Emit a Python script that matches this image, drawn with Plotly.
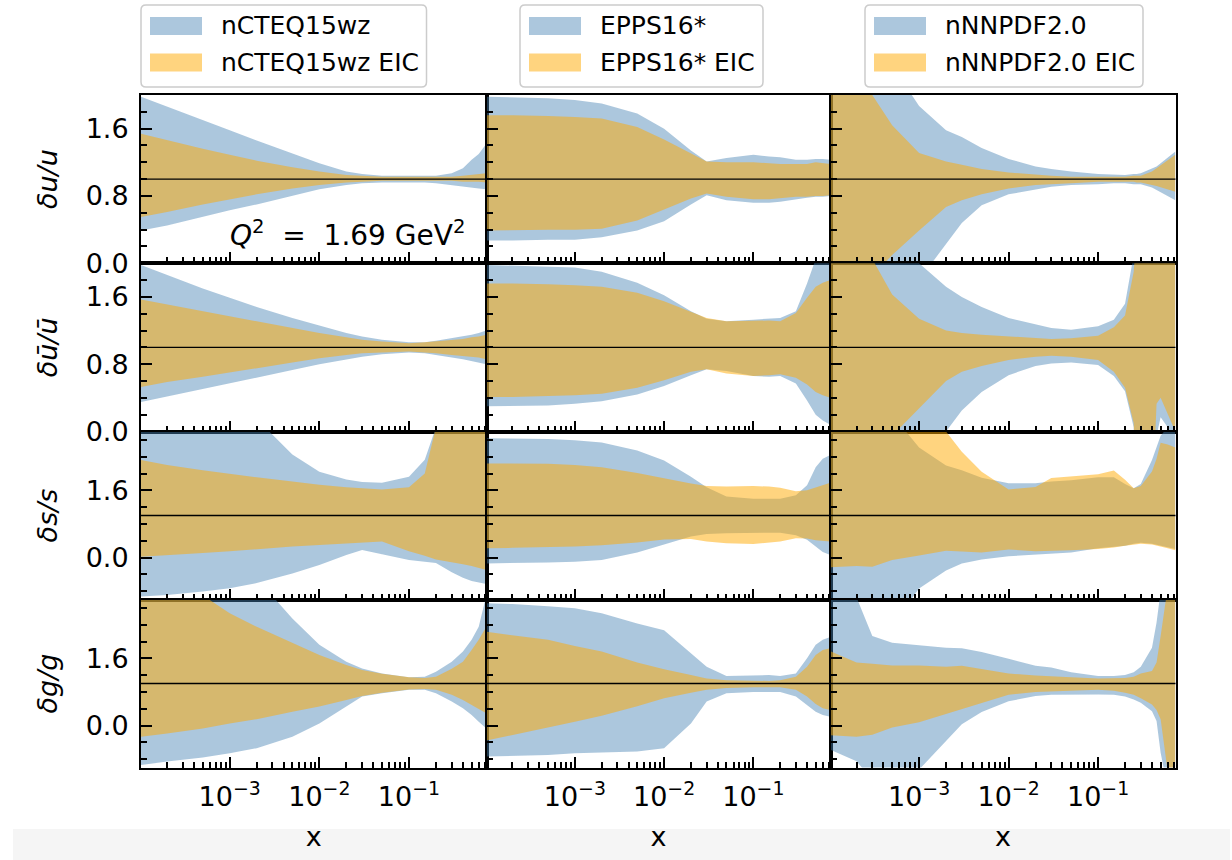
import plotly.graph_objects as go
from plotly.subplots import make_subplots

# ---------------- data ----------------
# x grid used for nCTEQ15wz and EPPS16* panels
X_A = [1.02e-4, 2e-4, 5e-4, 1e-3, 2e-3, 5e-3, 1e-2, 2e-2, 3e-2, 5e-2,
       0.1, 0.15, 0.2, 0.3, 0.4, 0.5, 0.6, 0.73]
# x grid used for nNNPDF2.0 panels (finer near the large-x features)
X_C = [1.02e-4, 2e-4, 3e-4, 5e-4, 1e-3, 2e-3, 3e-3, 5e-3, 1e-2, 2e-2, 3e-2,
       5e-2, 0.1, 0.15, 0.2, 0.25, 0.27, 0.3, 0.4, 0.45, 0.5, 0.6, 0.73]

# nCTEQ15wz  (HI/LO = band edges, EIC = with EIC pseudodata)
CT_U_HI = [1.98, 1.86, 1.70, 1.58, 1.46, 1.31, 1.19, 1.09, 1.06, 1.04, 1.04, 1.04, 1.04, 1.07, 1.13, 1.23, 1.30, 1.42]
CT_U_LO = [0.39, 0.45, 0.55, 0.63, 0.70, 0.80, 0.88, 0.93, 0.95, 0.96, 0.96, 0.96, 0.95, 0.93, 0.92, 0.90, 0.89, 0.88]
CT_U_EIC_HI = [1.54, 1.46, 1.36, 1.29, 1.22, 1.14, 1.09, 1.05, 1.04, 1.03, 1.03, 1.03, 1.03, 1.03, 1.04, 1.05, 1.06, 1.07]
CT_U_EIC_LO = [0.55, 0.61, 0.70, 0.76, 0.82, 0.89, 0.93, 0.96, 0.97, 0.98, 0.98, 0.98, 0.98, 0.98, 0.97, 0.97, 0.97, 0.96]

CT_UB_HI = [1.98, 1.86, 1.70, 1.59, 1.48, 1.35, 1.26, 1.17, 1.13, 1.09, 1.06, 1.06, 1.08, 1.11, 1.13, 1.15, 1.17, 1.20]
CT_UB_LO = [0.35, 0.41, 0.50, 0.57, 0.64, 0.73, 0.80, 0.86, 0.89, 0.92, 0.94, 0.93, 0.91, 0.88, 0.86, 0.84, 0.82, 0.80]
CT_UB_EIC_HI = [1.57, 1.51, 1.43, 1.37, 1.31, 1.23, 1.17, 1.12, 1.09, 1.07, 1.05, 1.06, 1.07, 1.09, 1.10, 1.12, 1.13, 1.15]
CT_UB_EIC_LO = [0.53, 0.59, 0.65, 0.70, 0.75, 0.82, 0.87, 0.91, 0.93, 0.94, 0.95, 0.94, 0.93, 0.91, 0.90, 0.89, 0.88, 0.86]

CT_S_HI = [3.6, 3.55, 3.5, 3.45, 3.3, 2.45, 2.04, 1.86, 1.80, 1.78, 1.92, 2.33, 3.1, 3.5, 3.5, 3.5, 3.5, 3.5]
CT_S_LO = [-0.93, -0.89, -0.81, -0.73, -0.61, -0.38, -0.18, 0.06, 0.18, 0.08, -0.06, -0.10, -0.13, -0.35, -0.48, -0.56, -0.60, -0.63]
CT_S_EIC_HI = [2.32, 2.20, 2.08, 1.99, 1.91, 1.81, 1.73, 1.67, 1.65, 1.62, 1.67, 2.0, 3.1, 3.5, 3.5, 3.5, 3.5, 3.5]
CT_S_EIC_LO = [0.02, 0.06, 0.11, 0.15, 0.19, 0.26, 0.30, 0.34, 0.36, 0.38, 0.15, 0.04, -0.05, -0.12, -0.16, -0.20, -0.24, -0.30]

CT_G_HI = [3.8, 3.8, 3.7, 3.6, 3.5, 2.55, 1.92, 1.52, 1.36, 1.24, 1.15, 1.16, 1.28, 1.52, 1.76, 2.04, 2.35, 3.1]
CT_G_LO = [-0.94, -0.86, -0.76, -0.66, -0.54, -0.27, 0.05, 0.45, 0.69, 0.77, 0.85, 0.85, 0.77, 0.57, 0.41, 0.25, 0.09, -0.07]
CT_G_EIC_HI = [3.5, 3.4, 3.1, 2.67, 2.35, 1.96, 1.68, 1.44, 1.32, 1.23, 1.15, 1.13, 1.16, 1.35, 1.52, 1.80, 2.04, 2.35]
CT_G_EIC_LO = [-0.27, -0.19, -0.07, 0.05, 0.15, 0.33, 0.45, 0.61, 0.70, 0.78, 0.86, 0.87, 0.85, 0.73, 0.61, 0.49, 0.39, 0.29]

# EPPS16*
EP_U_HI = [1.98, 1.97, 1.96, 1.94, 1.90, 1.78, 1.60, 1.34, 1.21, 1.25, 1.29, 1.27, 1.26, 1.23, 1.23, 1.24, 1.24, 1.23]
EP_U_LO = [0.27, 0.27, 0.28, 0.28, 0.31, 0.39, 0.50, 0.70, 0.81, 0.75, 0.72, 0.72, 0.73, 0.76, 0.78, 0.79, 0.79, 0.80]
EP_U_EIC_HI = [1.76, 1.76, 1.75, 1.74, 1.72, 1.62, 1.47, 1.30, 1.21, 1.20, 1.20, 1.19, 1.18, 1.18, 1.18, 1.20, 1.19, 1.18]
EP_U_EIC_LO = [0.39, 0.39, 0.40, 0.40, 0.41, 0.51, 0.64, 0.77, 0.83, 0.79, 0.76, 0.76, 0.77, 0.79, 0.79, 0.80, 0.80, 0.81]

EP_UB_HI = [1.98, 1.97, 1.96, 1.95, 1.90, 1.77, 1.62, 1.43, 1.34, 1.31, 1.33, 1.34, 1.35, 1.43, 1.76, 2.05, 2.3, 2.3]
EP_UB_LO = [0.30, 0.30, 0.31, 0.33, 0.36, 0.44, 0.54, 0.67, 0.74, 0.72, 0.66, 0.65, 0.66, 0.57, 0.37, 0.20, 0.13, 0.08]
EP_UB_EIC_HI = [1.76, 1.76, 1.75, 1.74, 1.72, 1.65, 1.55, 1.42, 1.35, 1.31, 1.32, 1.32, 1.31, 1.41, 1.59, 1.72, 1.77, 1.80]
EP_UB_EIC_LO = [0.41, 0.41, 0.42, 0.43, 0.45, 0.52, 0.61, 0.71, 0.74, 0.69, 0.66, 0.67, 0.68, 0.64, 0.56, 0.47, 0.43, 0.40]

EP_S_HI = [2.84, 2.83, 2.82, 2.79, 2.74, 2.55, 2.31, 1.92, 1.67, 1.45, 1.40, 1.40, 1.40, 1.48, 1.72, 2.15, 2.35, 2.44]
EP_S_LO = [-0.14, -0.13, -0.12, -0.10, -0.06, 0.12, 0.31, 0.50, 0.56, 0.58, 0.59, 0.59, 0.59, 0.53, 0.42, 0.26, 0.13, 0.06]
EP_S_EIC_HI = [2.24, 2.24, 2.23, 2.20, 2.15, 2.01, 1.88, 1.76, 1.70, 1.69, 1.70, 1.69, 1.66, 1.58, 1.60, 1.66, 1.72, 1.78]
EP_S_EIC_LO = [0.22, 0.23, 0.24, 0.26, 0.29, 0.36, 0.43, 0.44, 0.38, 0.34, 0.32, 0.35, 0.38, 0.46, 0.45, 0.41, 0.39, 0.38]

EP_G_HI = [2.91, 2.89, 2.84, 2.79, 2.67, 2.43, 2.27, 1.72, 1.40, 1.18, 1.20, 1.20, 1.18, 1.24, 1.60, 1.92, 2.04, 2.11]
EP_G_LO = [-0.74, -0.73, -0.70, -0.66, -0.64, -0.62, -0.54, 0.05, 0.57, 0.77, 0.80, 0.80, 0.80, 0.69, 0.49, 0.33, 0.25, 0.21]
EP_G_EIC_HI = [2.23, 2.15, 2.04, 1.89, 1.76, 1.50, 1.34, 1.20, 1.12, 1.08, 1.06, 1.06, 1.08, 1.16, 1.40, 1.68, 1.80, 1.84]
EP_G_EIC_LO = [-0.36, -0.23, -0.05, 0.09, 0.23, 0.46, 0.65, 0.78, 0.85, 0.89, 0.91, 0.91, 0.91, 0.85, 0.69, 0.51, 0.41, 0.37]

# nNNPDF2.0
NN_U_HI = [3.0, 2.8, 2.6, 2.35, 1.87, 1.58, 1.50, 1.37, 1.24, 1.15, 1.12, 1.09, 1.06, 1.05, 1.05, 1.06, 1.06, 1.07, 1.12, 1.15, 1.19, 1.26, 1.33]
NN_U_LO = [-1.0, -0.8, -0.65, -0.5, -0.2, 0.23, 0.48, 0.69, 0.82, 0.88, 0.91, 0.93, 0.94, 0.95, 0.95, 0.94, 0.94, 0.94, 0.90, 0.88, 0.85, 0.80, 0.75]
NN_U_EIC_HI = [3.5, 2.4, 2.0, 1.64, 1.31, 1.21, 1.17, 1.12, 1.08, 1.05, 1.04, 1.03, 1.03, 1.03, 1.03, 1.04, 1.04, 1.04, 1.09, 1.13, 1.17, 1.23, 1.29]
NN_U_EIC_LO = [-0.5, -0.3, -0.15, 0.10, 0.39, 0.67, 0.75, 0.82, 0.89, 0.93, 0.94, 0.95, 0.97, 0.97, 0.97, 0.97, 0.96, 0.96, 0.93, 0.92, 0.90, 0.88, 0.85]

NN_UB_HI = [3.5, 3.2, 2.9, 2.3, 2.0, 1.72, 1.60, 1.48, 1.35, 1.27, 1.23, 1.21, 1.25, 1.33, 1.52, 2.1, 3.0, 3.0, 3.0, 3.0, 3.0, 3.0, 3.0]
NN_UB_LO = [-1.0, -0.8, -0.7, -0.5, -0.25, 0.0, 0.25, 0.47, 0.67, 0.78, 0.81, 0.82, 0.79, 0.66, 0.48, 0.05, -1.0, -1.0, -1.0, -0.05, 0.17, 0.05, -0.3]
NN_UB_EIC_HI = [3.5, 2.6, 2.05, 1.63, 1.34, 1.20, 1.17, 1.15, 1.13, 1.11, 1.10, 1.11, 1.14, 1.24, 1.38, 1.9, 3.0, 3.0, 3.0, 3.0, 3.0, 3.0, 3.0]
NN_UB_EIC_LO = [-0.6, -0.4, -0.25, -0.05, 0.27, 0.60, 0.71, 0.78, 0.85, 0.89, 0.90, 0.89, 0.85, 0.71, 0.52, 0.1, -1.0, -1.0, -1.0, 0.33, 0.40, 0.21, 0.0]

NN_S_HI = [3.5, 3.5, 3.5, 3.4, 2.62, 2.19, 2.08, 1.90, 1.77, 1.77, 1.81, 1.84, 1.91, 1.91, 1.75, 1.65, 1.70, 1.75, 2.32, 2.65, 2.9, 3.1, 3.1]
NN_S_LO = [-1.3, -1.2, -1.3, -1.6, -0.74, -0.31, -0.14, -0.05, 0.03, 0.07, 0.09, 0.12, 0.22, 0.26, 0.28, 0.33, 0.34, 0.35, 0.33, 0.30, 0.27, 0.24, 0.20]
NN_S_EIC_HI = [3.5, 3.5, 3.5, 3.4, 3.2, 3.0, 2.52, 2.04, 1.62, 1.68, 1.89, 1.93, 1.98, 2.07, 1.85, 1.65, 1.67, 1.70, 2.05, 2.35, 2.73, 2.69, 2.62]
NN_S_EIC_LO = [-0.23, -0.20, -0.22, -0.06, 0.05, 0.16, 0.14, 0.12, 0.19, 0.15, 0.16, 0.17, 0.20, 0.24, 0.28, 0.31, 0.32, 0.33, 0.31, 0.28, 0.26, 0.22, 0.17]

NN_G_HI = [3.5, 3.05, 2.13, 1.97, 1.91, 1.85, 1.84, 1.75, 1.59, 1.42, 1.38, 1.27, 1.18, 1.18, 1.20, 1.27, 1.32, 1.40, 1.85, 2.45, 3.2, 3.5, 3.5]
NN_G_LO = [-0.58, -0.85, -1.3, -1.5, -1.05, -0.37, 0.03, 0.32, 0.58, 0.70, 0.73, 0.73, 0.74, 0.73, 0.69, 0.62, 0.59, 0.54, 0.34, 0.11, -0.65, -1.5, -1.5]
NN_G_EIC_HI = [1.77, 1.50, 1.47, 1.43, 1.43, 1.40, 1.42, 1.34, 1.24, 1.19, 1.18, 1.15, 1.12, 1.12, 1.13, 1.16, 1.19, 1.24, 1.30, 1.50, 2.13, 3.3, 3.5]
NN_G_EIC_LO = [-0.23, -0.27, -0.22, -0.05, 0.08, 0.27, 0.38, 0.53, 0.73, 0.80, 0.81, 0.83, 0.85, 0.83, 0.78, 0.73, 0.70, 0.65, 0.50, 0.37, 0.15, -1.1, -1.5]

SETS = ["nCTEQ15wz", "EPPS16*", "nNNPDF2.0"]
ROW_TITLES = ["<i>δu/u</i>", "<i>δū/ū</i>", "<i>δs/s</i>", "<i>δg/g</i>"]
X_TICKVALS = [1e-4, 1e-3, 1e-2, 1e-1]
X_TICKTEXT = ["10<sup>−4</sup>", "10<sup>−3</sup>", "10<sup>−2</sup>", "10<sup>−1</sup>"]
Q2_LABEL = "<i>Q</i><sup>2</sup>\u00a0\u00a0=\u00a0\u00a01.69 GeV<sup>2</sup>"

PANELS = [
    [(X_A, CT_U_HI, CT_U_LO, CT_U_EIC_HI, CT_U_EIC_LO),
     (X_A, EP_U_HI, EP_U_LO, EP_U_EIC_HI, EP_U_EIC_LO),
     (X_C, NN_U_HI, NN_U_LO, NN_U_EIC_HI, NN_U_EIC_LO)],
    [(X_A, CT_UB_HI, CT_UB_LO, CT_UB_EIC_HI, CT_UB_EIC_LO),
     (X_A, EP_UB_HI, EP_UB_LO, EP_UB_EIC_HI, EP_UB_EIC_LO),
     (X_C, NN_UB_HI, NN_UB_LO, NN_UB_EIC_HI, NN_UB_EIC_LO)],
    [(X_A, CT_S_HI, CT_S_LO, CT_S_EIC_HI, CT_S_EIC_LO),
     (X_A, EP_S_HI, EP_S_LO, EP_S_EIC_HI, EP_S_EIC_LO),
     (X_C, NN_S_HI, NN_S_LO, NN_S_EIC_HI, NN_S_EIC_LO)],
    [(X_A, CT_G_HI, CT_G_LO, CT_G_EIC_HI, CT_G_EIC_LO),
     (X_A, EP_G_HI, EP_G_LO, EP_G_EIC_HI, EP_G_EIC_LO),
     (X_C, NN_G_HI, NN_G_LO, NN_G_EIC_HI, NN_G_EIC_LO)],
]

# ---------------- styling ----------------
W, H = 1232, 860
FONT = "DejaVu Sans"
BLUE = "rgba(70,130,180,0.45)"
ORANGE = "rgba(255,170,0,0.5)"


def px(x):
    return x / W


def py(y):
    return 1 - y / H


COL_PX = [(141, 486.5), (486.5, 830.5), (830.5, 1175.5)]
ROW_PX = [(95, 263.3), (263.3, 431.5), (431.5, 599.5), (599.5, 767.5)]
Y_RANGES = [[0, 2], [0, 2], [-1, 3], [-1, 3]]
Y_TICKS = [[0.0, 0.8, 1.6], [0.0, 0.8, 1.6], [0.0, 1.6], [0.0, 1.6]]
Y_MINOR = [[0.2 * k for k in range(1, 10)], [0.2 * k for k in range(1, 10)],
           [-0.8 + 0.4 * k for k in range(10)], [-0.8 + 0.4 * k for k in range(10)]]
X_MINOR = [m * 10.0 ** e for e in range(-4, 0) for m in range(2, 10)]
# legend boxes: (left, right) in page pixels; swatch/text offsets relative to left
LEG_PX = [(141, 426.5), (520, 763), (865, 1143)]
LEG_TOP, LEG_BOT = 5, 87
LEG_ROWS = [26, 62.5]

fig = make_subplots(rows=4, cols=3, horizontal_spacing=0, vertical_spacing=0)

for r in range(4):
    for c in range(3):
        xs, hi, lo, ehi, elo = PANELS[r][c]
        for up, dn, color, label in ((hi, lo, BLUE, SETS[c]),
                                     (ehi, elo, ORANGE, SETS[c] + " EIC")):
            fig.add_trace(go.Scatter(
                x=list(xs) + list(xs)[::-1],
                y=list(up) + list(dn)[::-1],
                mode="lines", fill="toself", fillcolor=color,
                line=dict(width=0, color=color),
                name=label, showlegend=False, hoverinfo="skip"),
                row=r + 1, col=c + 1)

for r in range(4):
    for c in range(3):
        idx = r * 3 + c + 1
        xa = "xaxis" if idx == 1 else f"xaxis{idx}"
        ya = "yaxis" if idx == 1 else f"yaxis{idx}"
        x0, x1 = COL_PX[c]
        y0, y1 = ROW_PX[r]
        fig.layout[xa].update(
            domain=[px(x0), px(x1)], type="log", range=[-3.99, -0.135],
            tickvals=X_TICKVALS, ticktext=X_TICKTEXT,
            ticks="inside", ticklen=11, tickwidth=2, tickcolor="black",
            showline=True, linewidth=2, linecolor="black", mirror=True,
            showgrid=False, zeroline=False, automargin=False,
            showticklabels=(r == 3), ticklabelstandoff=4,
            tickfont=dict(family=FONT, size=27, color="black"),
            minor=dict(tickvals=X_MINOR, ticks="inside", ticklen=6,
                       tickwidth=1.5, tickcolor="black", showgrid=False),
        )
        if r == 3:
            fig.layout[xa].title = dict(text="x", standoff=16,
                                        font=dict(family=FONT, size=27, color="black"))
        fig.layout[ya].update(
            domain=[py(y1), py(y0)], range=Y_RANGES[r],
            tickvals=Y_TICKS[r], tickformat=".1f",
            ticks="inside", ticklen=11, tickwidth=2, tickcolor="black",
            showline=True, linewidth=2, linecolor="black", mirror=True,
            showgrid=False, zeroline=False, automargin=False,
            showticklabels=(c == 0), ticklabelstandoff=5,
            tickfont=dict(family=FONT, size=27, color="black"),
            minor=dict(tickvals=Y_MINOR[r], ticks="inside", ticklen=6,
                       tickwidth=1.5, tickcolor="black", showgrid=False),
        )
        if c == 0:
            fig.layout[ya].title = dict(text=ROW_TITLES[r], standoff=20,
                                        font=dict(family=FONT, size=27, color="black"))
        xref = "x" if idx == 1 else f"x{idx}"
        yref = "y" if idx == 1 else f"y{idx}"
        fig.add_shape(type="line", xref=f"{xref} domain", yref=yref,
                      x0=0, x1=1, y0=1, y1=1,
                      line=dict(color="black", width=1.3))

fig.add_annotation(text=Q2_LABEL, xref="paper", yref="paper",
                   x=px(228), y=py(233), xanchor="left", yanchor="middle",
                   showarrow=False, font=dict(family=FONT, size=28, color="black"))


# ---- legends (matplotlib-style boxes with large swatches) ----
def rounded_box(x0, y0, x1, y1, rad=5):
    pts = [("M", x0 + rad, y0), ("L", x1 - rad, y0), ("Q", x1, y0, x1, y0 + rad),
           ("L", x1, y1 - rad), ("Q", x1, y1, x1 - rad, y1), ("L", x0 + rad, y1),
           ("Q", x0, y1, x0, y1 - rad), ("L", x0, y0 + rad), ("Q", x0, y0, x0 + rad, y0)]
    out = []
    for p in pts:
        cmd, vals = p[0], p[1:]
        coords = []
        for i in range(0, len(vals), 2):
            coords.append(f"{px(vals[i]):.5f},{py(vals[i + 1]):.5f}")
        out.append(cmd + " ".join(coords))
    return " ".join(out) + " Z"


for c in range(3):
    lx0, lx1 = LEG_PX[c]
    fig.add_shape(type="path", xref="paper", yref="paper",
                  path=rounded_box(lx0, LEG_TOP, lx1, LEG_BOT),
                  fillcolor="white", line=dict(color="#cccccc", width=1.5))
    for k, (color, label) in enumerate(((BLUE, SETS[c]), (ORANGE, SETS[c] + " EIC"))):
        yc = LEG_ROWS[k]
        fig.add_shape(type="rect", xref="paper", yref="paper",
                      x0=px(lx0 + 9), x1=px(lx0 + 61), y0=py(yc + 9), y1=py(yc - 9),
                      fillcolor=color, line=dict(width=0))
        fig.add_annotation(text=label, xref="paper", yref="paper",
                           x=px(lx0 + 78), y=py(yc), xanchor="left", yanchor="middle",
                           showarrow=False,
                           font=dict(family=FONT, size=25, color="black"))

# faint grey strip at the very bottom of the screenshot
fig.add_shape(type="rect", xref="paper", yref="paper", layer="below",
              x0=px(13), x1=px(1230), y0=0, y1=py(829),
              fillcolor="#f5f5f5", line=dict(width=0))

fig.update_layout(
    width=W, height=H, margin=dict(l=0, r=0, t=0, b=0),
    paper_bgcolor="white", plot_bgcolor="white",
    font=dict(family=FONT, color="black"),
    showlegend=False,
)

fig.write_html("out.html",
               config={"displayModeBar": False},
               post_script="document.body.style.margin='0px';")
